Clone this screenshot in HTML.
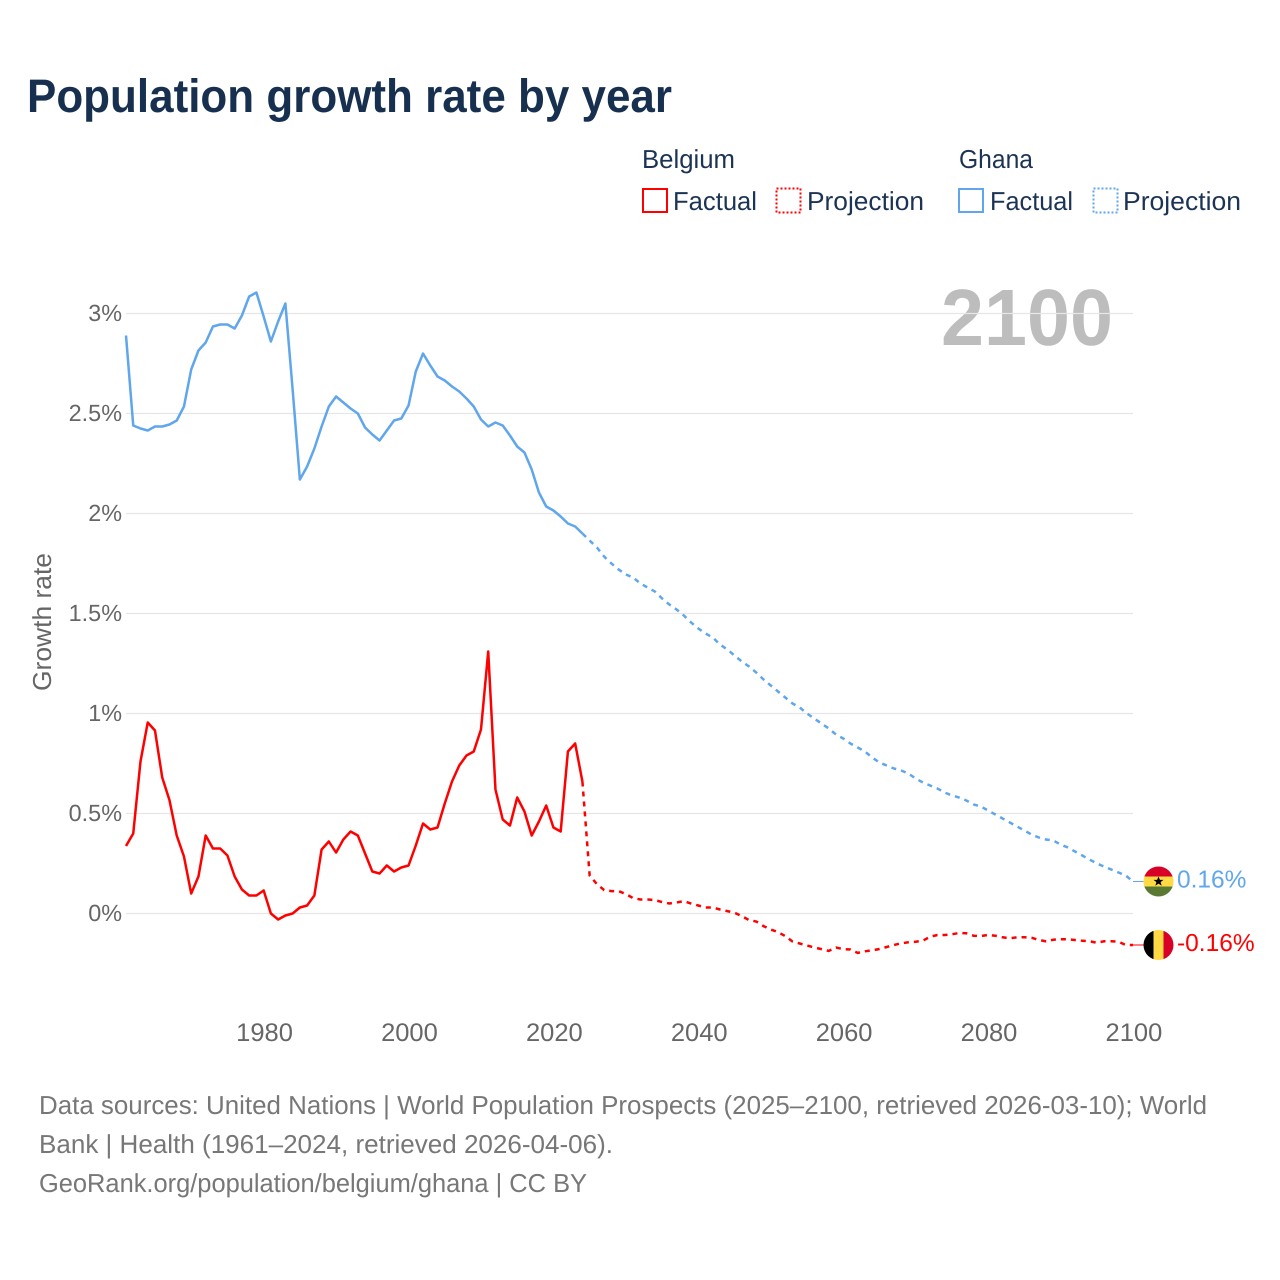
<!DOCTYPE html>
<html lang="en">
<head>
<meta charset="utf-8">
<title>Population growth rate by year</title>
<style>
  html,body{margin:0;padding:0;background:#fff;}
  svg{display:block;}
  text{font-family:"Liberation Sans",sans-serif;text-rendering:geometricPrecision;}
</style>
</head>
<body>
<svg id="chart" xmlns="http://www.w3.org/2000/svg" width="1280" height="1280" viewBox="0 0 1280 1280">
  <rect x="0" y="0" width="1280" height="1280" fill="#fff"/>
  <defs>
    <clipPath id="flag-clip-ghana"><circle cx="0" cy="0" r="15"/></clipPath>
    <clipPath id="flag-clip-belgium"><circle cx="0" cy="0" r="15"/></clipPath>
  </defs>

  <text x="27" y="112" font-size="47" font-weight="700" fill="#17304f" textLength="645" lengthAdjust="spacingAndGlyphs">Population growth rate by year</text>

  <g font-size="26" fill="#1b3354">
    <text x="642" y="168" textLength="93" lengthAdjust="spacingAndGlyphs" fill="#1b3354">Belgium</text>
    <rect x="643" y="189" width="24" height="23" fill="none" stroke="#ff0000" stroke-width="2"/>
    <text x="673" y="210" textLength="84" lengthAdjust="spacingAndGlyphs" fill="#1b3354">Factual</text>
    <rect x="776.5" y="188.5" width="24" height="24" fill="none" stroke="#ff0000" stroke-width="2" stroke-dasharray="2,2"/>
    <text x="807" y="210" textLength="117" lengthAdjust="spacingAndGlyphs" fill="#1b3354">Projection</text>

    <text x="959" y="168" textLength="74" lengthAdjust="spacingAndGlyphs" fill="#1b3354">Ghana</text>
    <rect x="959" y="189" width="24" height="23" fill="none" stroke="#5fa6ec" stroke-width="2"/>
    <text x="990" y="210" textLength="83" lengthAdjust="spacingAndGlyphs" fill="#1b3354">Factual</text>
    <rect x="1093.5" y="188.5" width="24" height="24" fill="none" stroke="#5fa6ec" stroke-width="2" stroke-dasharray="2,2"/>
    <text x="1123" y="210" textLength="118" lengthAdjust="spacingAndGlyphs" fill="#1b3354">Projection</text>
  </g>

  <text x="941" y="345" font-size="80" font-weight="700" fill="#000" fill-opacity="0.26" textLength="172" lengthAdjust="spacingAndGlyphs">2100</text>

  <g id="grid"></g>
  <g id="y-ticks"></g>
  <g id="x-ticks"></g>

  <text transform="translate(51,622) rotate(-90)" text-anchor="middle" font-size="26" fill="#666" textLength="138" lengthAdjust="spacingAndGlyphs">Growth rate</text>

  <g id="series"></g>
  <g id="end-markers"></g>

  <g font-size="26" fill="#777">
    <text x="39" y="1114" textLength="1168" lengthAdjust="spacingAndGlyphs">Data sources: United Nations | World Population Prospects (2025–2100, retrieved 2026-03-10); World</text>
    <text x="39" y="1153" textLength="574" lengthAdjust="spacingAndGlyphs">Bank | Health (1961–2024, retrieved 2026-04-06).</text>
    <text x="39" y="1192" textLength="548" lengthAdjust="spacingAndGlyphs">GeoRank.org/population/belgium/ghana | CC BY</text>
  </g>
</svg>

<script>
var yTickValues = [0, 0.5, 1, 1.5, 2, 2.5, 3];
var yTickLabels = ["0%", "0.5%", "1%", "1.5%", "2%", "2.5%", "3%"];
var xTickValues = [1980, 2000, 2020, 2040, 2060, 2080, 2100];
var xTickLabels = ["1980", "2000", "2020", "2040", "2060", "2080", "2100"];

var factualStartYear = 1961;
var projectionStartYear = 2024;

var belgiumFactual = [
  0.3375, 0.40, 0.76, 0.955, 0.915, 0.68, 0.567, 0.39, 0.285, 0.10,
  0.185, 0.39, 0.325, 0.325, 0.29, 0.185, 0.12, 0.09, 0.09, 0.115,
  0.00, -0.03, -0.01, 0.00, 0.03, 0.04, 0.09, 0.32, 0.36, 0.305,
  0.37, 0.41, 0.39, 0.30, 0.21, 0.20, 0.24, 0.21, 0.23, 0.24,
  0.34, 0.45, 0.42, 0.43, 0.55, 0.66, 0.74, 0.79, 0.81, 0.92,
  1.31, 0.62, 0.47, 0.44, 0.58, 0.51, 0.39, 0.46, 0.54, 0.43,
  0.41, 0.81, 0.85, 0.66
];
var belgiumProjection = [
  0.66, 0.19, 0.147, 0.117, 0.112, 0.112, 0.097, 0.077, 0.07, 0.07,
  0.067, 0.057, 0.05, 0.055, 0.062, 0.05, 0.04, 0.03, 0.03, 0.02,
  0.012, 0.004, -0.013, -0.033, -0.04, -0.063, -0.08, -0.093, -0.113, -0.14,
  -0.15, -0.16, -0.17, -0.178, -0.187, -0.17, -0.178, -0.18, -0.197, -0.189,
  -0.184, -0.1775, -0.1675, -0.1575, -0.149, -0.144, -0.141, -0.136, -0.116, -0.1075,
  -0.1075, -0.104, -0.0975, -0.099, -0.111, -0.1125, -0.1075, -0.111, -0.119, -0.124,
  -0.119, -0.119, -0.121, -0.1325, -0.139, -0.131, -0.129, -0.129, -0.1325, -0.136,
  -0.139, -0.146, -0.139, -0.139, -0.141, -0.1575, -0.1575
];
var ghanaFactual = [
  2.89, 2.44, 2.425, 2.415, 2.435, 2.435, 2.445, 2.465, 2.535, 2.72,
  2.815, 2.855, 2.935, 2.945, 2.945, 2.925, 2.99, 3.085, 3.105, 2.985,
  2.86, 2.96, 3.05, 2.62, 2.17, 2.235, 2.325, 2.435, 2.535, 2.585,
  2.555, 2.525, 2.50, 2.43, 2.395, 2.365, 2.415, 2.465, 2.475, 2.54,
  2.71, 2.80, 2.74, 2.685, 2.665, 2.635, 2.61, 2.575, 2.535, 2.47,
  2.435, 2.455, 2.44, 2.39, 2.335, 2.305, 2.22, 2.105, 2.035, 2.015,
  1.985, 1.95, 1.935, 1.90
];
var ghanaProjection = [
  1.90, 1.865, 1.83, 1.785, 1.75, 1.72, 1.695, 1.68, 1.65, 1.63,
  1.61, 1.575, 1.545, 1.52, 1.49, 1.455, 1.425, 1.40, 1.38, 1.345,
  1.32, 1.29, 1.26, 1.235, 1.205, 1.17, 1.14, 1.11, 1.08, 1.05,
  1.03, 1.00, 0.975, 0.95, 0.925, 0.895, 0.875, 0.85, 0.83, 0.81,
  0.78, 0.755, 0.74, 0.725, 0.715, 0.70, 0.675, 0.655, 0.64, 0.625,
  0.605, 0.59, 0.58, 0.565, 0.545, 0.535, 0.515, 0.495, 0.475, 0.455,
  0.435, 0.415, 0.395, 0.38, 0.37, 0.365, 0.345, 0.33, 0.31, 0.29,
  0.27, 0.25, 0.235, 0.22, 0.205, 0.19, 0.16
];
var belgiumEndLabel = "-0.16%";
var ghanaEndLabel = "0.16%";

var SVGNS = "http://www.w3.org/2000/svg";
var plotLeft = 126;
var plotRight = 1133;
var RED = "#ff0000";
var BLUE = "#5fa6ec";

function xScale(year) {
  return plotLeft + (year - 1961) * (plotRight - plotLeft) / 139;
}
function yScale(value) {
  return 913.5 - value * 200;
}
function linePath(values, startYear) {
  var d = "";
  for (var i = 0; i < values.length; i++) {
    d += (i === 0 ? "M" : "L") + xScale(startYear + i).toFixed(2) + " " + yScale(values[i]).toFixed(2);
  }
  return d;
}

var grid = document.getElementById("grid");
var yTicks = document.getElementById("y-ticks");
var xTicks = document.getElementById("x-ticks");
var series = document.getElementById("series");
var endMarkers = document.getElementById("end-markers");

yTickValues.forEach(function (v, i) {
  var line = document.createElementNS(SVGNS, "line");
  
  
  line.setAttribute("x1", plotLeft);
  line.setAttribute("x2", plotRight);
  line.setAttribute("y1", yScale(v));
  line.setAttribute("y2", yScale(v));
  line.setAttribute("stroke", "#e6e6e6");
  line.setAttribute("stroke-width", "1.2");
  grid.appendChild(line);

  var label = document.createElementNS(SVGNS, "text");
  
  
  label.setAttribute("x", 122);
  label.setAttribute("y", yScale(v) + 7.5);
  label.setAttribute("text-anchor", "end");
  label.setAttribute("font-size", "23.4");
  label.setAttribute("fill", "#666");
  label.textContent = yTickLabels[i];
  yTicks.appendChild(label);
});

xTickValues.forEach(function (v, i) {
  var label = document.createElementNS(SVGNS, "text");
  
  
  label.setAttribute("x", xScale(v) + 0.9);
  label.setAttribute("y", 1041);
  label.setAttribute("text-anchor", "middle");
  label.setAttribute("font-size", "25.5");
  label.setAttribute("fill", "#666");
  label.textContent = xTickLabels[i];
  xTicks.appendChild(label);
});

function drawFactual(values, color, name) {
  var p = document.createElementNS(SVGNS, "path");
  
  
  p.setAttribute("d", linePath(values, factualStartYear));
  p.setAttribute("fill", "none");
  p.setAttribute("stroke", color);
  p.setAttribute("stroke-width", "2.5");
  p.setAttribute("stroke-linejoin", "round");
  series.appendChild(p);
}
function drawProjection(values, color, name) {
  var p = document.createElementNS(SVGNS, "path");
  
  
  p.setAttribute("d", linePath(values, projectionStartYear));
  p.setAttribute("fill", "none");
  p.setAttribute("stroke", color);
  p.setAttribute("stroke-width", "2.5");
  p.setAttribute("stroke-dasharray", "5,5");
  series.appendChild(p);
}
drawFactual(ghanaFactual, BLUE, "ghana-factual-line");
drawProjection(ghanaProjection, BLUE, "ghana-projection-line");
drawFactual(belgiumFactual, RED, "belgium-factual-line");
drawProjection(belgiumProjection, RED, "belgium-projection-line");

function addRect(parent, x, y, w, h, fill, name) {
  var r = document.createElementNS(SVGNS, "rect");
  
  
  r.setAttribute("x", x);
  r.setAttribute("y", y);
  r.setAttribute("width", w);
  r.setAttribute("height", h);
  r.setAttribute("fill", fill);
  parent.appendChild(r);
}

function drawEnd(lastValue, color, labelText, country) {
  var y = yScale(lastValue);

  var connector = document.createElementNS(SVGNS, "line");
  
  
  connector.setAttribute("x1", xScale(2100));
  connector.setAttribute("x2", 1144);
  connector.setAttribute("y1", y);
  connector.setAttribute("y2", y);
  connector.setAttribute("stroke", color);
  connector.setAttribute("stroke-width", "1");
  endMarkers.appendChild(connector);

  var flag = document.createElementNS(SVGNS, "g");
  
  
  flag.setAttribute("transform", "translate(1158.5," + y + ")");
  flag.setAttribute("clip-path", "url(#flag-clip-" + country + ")");
  if (country === "ghana") {
    addRect(flag, -15, -15, 30, 10, "#d80027", "ghana-flag-red-band");
    addRect(flag, -15, -5, 30, 10, "#ffda44", "ghana-flag-yellow-band");
    addRect(flag, -15, 5, 30, 10, "#5a7a33", "ghana-flag-green-band");
    var star = document.createElementNS(SVGNS, "polygon");
    
    
    star.setAttribute("points", "0,-5 1.4,-1.6 5,-1.6 2.1,0.6 3.2,4.2 0,2.1 -3.2,4.2 -2.1,0.6 -5,-1.6 -1.4,-1.6");
    star.setAttribute("fill", "#000");
    flag.appendChild(star);
  } else {
    addRect(flag, -15, -15, 10, 30, "#000000", "belgium-flag-black-band");
    addRect(flag, -5, -15, 10, 30, "#ffda44", "belgium-flag-yellow-band");
    addRect(flag, 5, -15, 10, 30, "#d80027", "belgium-flag-red-band");
  }
  endMarkers.appendChild(flag);

  var label = document.createElementNS(SVGNS, "text");
  
  
  label.setAttribute("x", 1177);
  label.setAttribute("y", y + 5.8);
  label.setAttribute("font-size", "24.5");
  label.setAttribute("fill", color);
  label.textContent = labelText;
  endMarkers.appendChild(label);
}
drawEnd(ghanaProjection[ghanaProjection.length - 1], BLUE, ghanaEndLabel, "ghana");
drawEnd(belgiumProjection[belgiumProjection.length - 1], RED, belgiumEndLabel, "belgium");
</script>
</body>
</html>
